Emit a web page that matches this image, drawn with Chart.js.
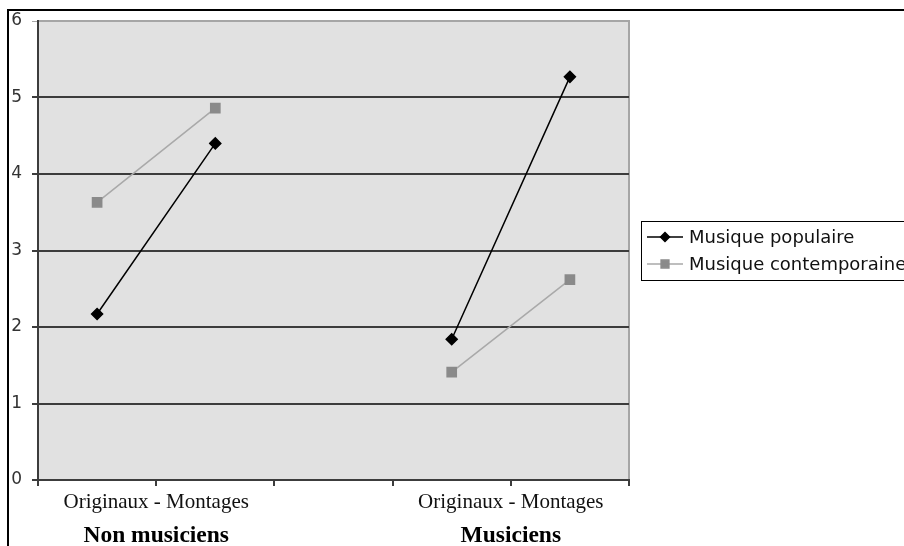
<!DOCTYPE html>
<html>
<head>
<meta charset="utf-8">
<script src="https://cdn.jsdelivr.net/npm/chart.js@4/dist/chart.umd.min.js"></script>
<style>
  body { margin: 0; background: #fff; }
  #wrap { width: 904px; height: 546px; position: relative; }
</style>
</head>
<body>
<div id="wrap"><canvas id="my-chart"></canvas></div>
<script>
'use strict';

// ******GLOBALS******
let categories = ['Originaux', 'Montages', '', 'Originaux', 'Montages'];
let subLabel = 'Originaux - Montages';
let groupLabels = ['Non musiciens', 'Musiciens'];
let groupPositions = [1, 4];

let populaire = [2.17, 4.40, null, 1.84, 5.27];
let contemporaine = [3.63, 4.86, null, 1.41, 2.62];

let seriesNames = ['Musique populaire', 'Musique contemporaine'];
let yTicks = [0, 1, 2, 3, 4, 5, 6];

let canvasElem = document.getElementById('my-chart').getContext('2d');

// ****** PLUGINS ******
let frame = {
  id: 'frame',
  beforeDraw(chart) {
    let ctx = chart.ctx;
    let a = chart.chartArea;
    ctx.save();
    ctx.fillStyle = '#e1e1e1';
    ctx.fillRect(a.left, a.top, a.right - a.left, a.bottom - a.top);
    ctx.strokeStyle = '#a6a6a6';
    ctx.lineWidth = 2;
    ctx.beginPath();
    ctx.moveTo(a.left, a.top);
    ctx.lineTo(a.right, a.top);
    ctx.lineTo(a.right, a.bottom);
    ctx.stroke();
    // outer black border
    ctx.strokeStyle = '#000';
    ctx.lineWidth = 2;
    ctx.beginPath();
    ctx.moveTo(8, 546);
    ctx.lineTo(8, 10);
    ctx.lineTo(904, 10);
    ctx.stroke();
    ctx.restore();
  }
};

let boxLegend = {
  id: 'boxLegend',
  afterDraw(chart) {
    let ctx = chart.ctx;
    let x0 = 641, y0 = 221, w = 270, h = 59;
    ctx.save();
    ctx.strokeStyle = '#000';
    ctx.lineWidth = 1;
    ctx.strokeRect(x0 + 0.5, y0 + 0.5, w, h);
    ctx.font = '18px "DejaVu Sans"';
    ctx.textBaseline = 'middle';
    chart.data.datasets.forEach(function (ds, i) {
      let y = y0 + 16 + i * 27;
      ctx.strokeStyle = ds.borderColor;
      ctx.lineWidth = 1.5;
      ctx.beginPath();
      ctx.moveTo(647, y);
      ctx.lineTo(683, y);
      ctx.stroke();
      ctx.fillStyle = ds.pointBackgroundColor;
      ctx.strokeStyle = ds.pointBackgroundColor;
      Chart.helpers.drawPoint(ctx, {
        pointStyle: ds.pointStyle,
        radius: ds.pointRadius - 1,
        rotation: 0,
        borderWidth: 1
      }, 665, y);
      ctx.fillStyle = '#111';
      ctx.fillText(ds.label, 689, y + 1);
    });
    ctx.restore();
  }
};

// ****** CHART ******
let myChartObj = {
  type: 'line',
  data: {
    labels: categories,
    datasets: [{
      label: seriesNames[0],
      data: populaire,
      borderColor: '#000',
      borderWidth: 1.5,
      pointStyle: 'rectRot',
      pointRadius: 5.5,
      pointBackgroundColor: '#000',
      pointBorderColor: '#000',
      spanGaps: false
    },
    {
      label: seriesNames[1],
      data: contemporaine,
      borderColor: '#a9a9a9',
      borderWidth: 1.5,
      pointStyle: 'rect',
      pointRadius: 6.5,
      pointBackgroundColor: '#8a8a8a',
      pointBorderColor: '#8a8a8a',
      spanGaps: false
    }]
  },
  options: {
    responsive: true,
    maintainAspectRatio: false,
    animation: false,
    layout: { padding: { left: 0, top: 21, right: 904 - 629, bottom: 0 } },
    plugins: {
      legend: { display: false },
      tooltip: { enabled: false }
    },
    scales: {
      y: {
        min: 0,
        max: 6,
        afterBuildTicks(axis) {
          axis.ticks = yTicks.map(v => ({ value: v }));
        },
        afterFit(scale) { scale.width = 38; },
        ticks: {
          padding: 10,
          color: '#333',
          font: { family: 'DejaVu Sans', size: 17 }
        },
        grid: {
          color: ctx => (ctx.tick && ctx.tick.value === 6) ? '#a6a6a6' : '#3c3c3c',
          lineWidth: ctx => (ctx.tick && ctx.tick.value === 6) ? 1 : 2,
          tickLength: 6
        },
        border: { color: '#3c3c3c', width: 2 }
      },
      x: {
        weight: 0,
        offset: true,
        afterFit(scale) { scale.height = 8; },
        ticks: { display: false },
        grid: {
          offset: true,
          drawOnChartArea: false,
          tickLength: 6,
          color: '#3c3c3c',
          lineWidth: 2
        },
        border: { color: '#3c3c3c', width: 2 }
      },
      xSub: {
        type: 'linear',
        position: 'bottom',
        weight: 1,
        min: 0,
        max: 5,
        afterBuildTicks(axis) {
          axis.ticks = groupPositions.map(v => ({ value: v }));
        },
        afterFit(scale) { scale.height = 30; },
        ticks: {
          padding: 2,
          maxRotation: 0,
          autoSkip: false,
          color: '#111',
          font: { family: 'Liberation Serif', size: 21 },
          callback: () => subLabel
        },
        grid: { display: false, drawTicks: false },
        border: { display: false }
      },
      xGroup: {
        type: 'linear',
        position: 'bottom',
        weight: 2,
        min: 0,
        max: 5,
        afterBuildTicks(axis) {
          axis.ticks = groupPositions.map(v => ({ value: v }));
        },
        afterFit(scale) { scale.height = 28; },
        ticks: {
          padding: 4,
          maxRotation: 0,
          autoSkip: false,
          color: '#000',
          font: { family: 'Liberation Serif', size: 23.5, weight: 'bold' },
          callback: (v) => groupLabels[groupPositions.indexOf(v)]
        },
        grid: { display: false, drawTicks: false },
        border: { display: false }
      }
    }
  },
  plugins: [frame, boxLegend]
};

new Chart(canvasElem, myChartObj);
</script>
</body>
</html>
